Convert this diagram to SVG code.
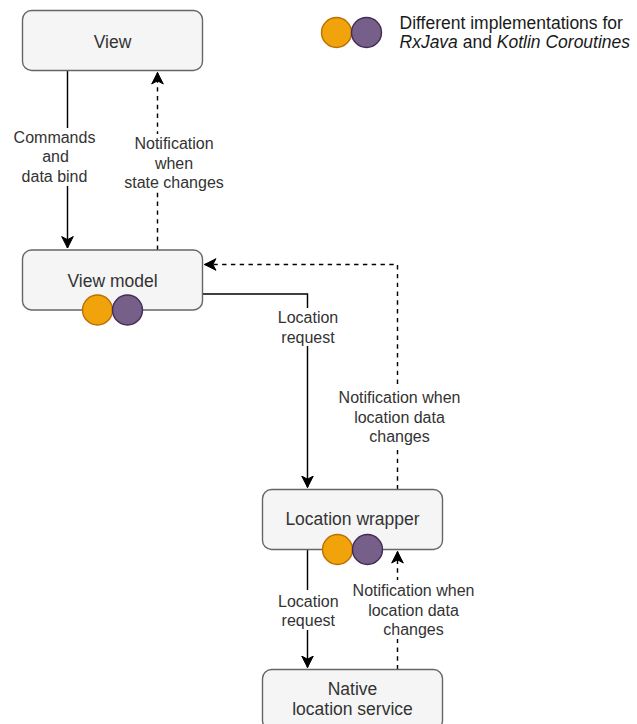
<svg xmlns="http://www.w3.org/2000/svg" width="637" height="724" viewBox="0 0 637 724">
<style>
.node rect{fill:#f5f5f5;stroke:#666666;stroke-width:1.4}
.nt{font-family:"Liberation Sans",Arial,sans-serif;font-size:17.5px;fill:#333333;text-anchor:middle}
.el{font-family:"Liberation Sans",Arial,sans-serif;font-size:16px;fill:#333333;text-anchor:middle}
.lg{font-family:"Liberation Sans",Arial,sans-serif;font-size:17.5px;fill:#1a1a1a}
.orange{fill:#f0a30a;stroke:#bd7000;stroke-width:1.4}
.purple{fill:#76608a;stroke:#432d57;stroke-width:1.4}
.edge{fill:none;stroke:#000000;stroke-width:1.45}
.dash{stroke-dasharray:4.4 4.4}
.lblbg{fill:#ffffff}
</style>
<defs>
<marker id="arrow" markerUnits="userSpaceOnUse" markerWidth="14" markerHeight="14" viewBox="-12 -7 14 14" refX="0" refY="0" orient="auto">
<path d="M0,0 L-11.5,-5.8 L-8.3,0 L-11.5,5.8 Z" fill="#000000" stroke="#000000" stroke-width="1"/>
</marker>
</defs>
<rect x="0" y="0" width="637" height="724" fill="#ffffff"/>
<g id="connectors">
<g id="e-view-vm">
<path class="edge" d="M67.5,70.5 L67.5,248" marker-end="url(#arrow)"/>
<rect class="lblbg" x="12" y="128" width="85" height="58"/>
<text class="el" x="54.5" y="142.7">Commands</text>
<text class="el" x="55.5" y="162.2">and</text>
<text class="el" x="54.5" y="181.7">data bind</text>
</g>
<g id="e-vm-view">
<path class="edge dash" d="M157.5,250 L157.5,72.5" marker-end="url(#arrow)"/>
<rect class="lblbg" x="132" y="134" width="94" height="58"/>
<text class="el" x="174" y="149">Notification</text>
<text class="el" x="174" y="168.5">when</text>
<text class="el" x="174" y="188">state changes</text>
</g>
<g id="e-vm-lw">
<path class="edge" d="M202.5,294 L307.5,294 L307.5,487.5" marker-end="url(#arrow)"/>
<rect class="lblbg" x="276" y="308" width="64" height="38"/>
<text class="el" x="308" y="323.3">Location</text>
<text class="el" x="308" y="342.8">request</text>
</g>
<g id="e-lw-vm">
<path class="edge dash" d="M397.5,489.5 L397.5,264.5 L204.5,264.5" marker-end="url(#arrow)"/>
<rect class="lblbg" x="336" y="388" width="128" height="58"/>
<text class="el" x="399.5" y="403.3">Notification when</text>
<text class="el" x="399.5" y="422.8">location data</text>
<text class="el" x="399.5" y="442.3">changes</text>
</g>
<g id="e-lw-ns">
<path class="edge" d="M307.5,549.5 L307.5,667.5" marker-end="url(#arrow)"/>
<rect class="lblbg" x="276" y="590" width="64" height="40"/>
<text class="el" x="308.3" y="606.7">Location</text>
<text class="el" x="308.3" y="626.2">request</text>
</g>
<g id="e-ns-lw">
<path class="edge dash" d="M397.5,669.5 L397.5,551.5" marker-end="url(#arrow)"/>
<rect class="lblbg" x="350" y="580" width="128" height="59"/>
<text class="el" x="413.5" y="596">Notification when</text>
<text class="el" x="413.5" y="615.5">location data</text>
<text class="el" x="413.5" y="635">changes</text>
</g>
</g>
<g id="view" class="node">
<rect x="22.5" y="10.5" width="180" height="60" rx="9" ry="9"/>
<text class="nt" x="112.5" y="47.5">View</text>
</g>
<g id="viewmodel" class="node">
<rect x="22.5" y="250" width="180" height="60" rx="9" ry="9"/>
<text class="nt" x="112.5" y="287">View model</text>
<circle class="orange" cx="97.5" cy="310" r="15"/>
<circle class="purple" cx="127.5" cy="310" r="15"/>
</g>
<g id="locationwrapper" class="node">
<rect x="262.5" y="489.5" width="180" height="60" rx="9" ry="9"/>
<text class="nt" x="352.5" y="525.3">Location wrapper</text>
<circle class="orange" cx="337.5" cy="549.5" r="15"/>
<circle class="purple" cx="367.5" cy="549.5" r="15"/>
</g>
<g id="nativeservice" class="node">
<rect x="262.5" y="669.5" width="180" height="60" rx="9" ry="9"/>
<text class="nt" x="352.5" y="695">Native</text>
<text class="nt" x="352.5" y="715">location service</text>
</g>
<g id="legend">
<circle class="orange" cx="336.5" cy="32.5" r="15"/>
<circle class="purple" cx="366.5" cy="32.5" r="15"/>
<text class="lg" x="399.5" y="28.5">Different implementations for</text>
<text class="lg" x="399.5" y="48"><tspan font-style="italic">RxJava</tspan> and <tspan font-style="italic">Kotlin Coroutines</tspan></text>
</g>
</svg>
